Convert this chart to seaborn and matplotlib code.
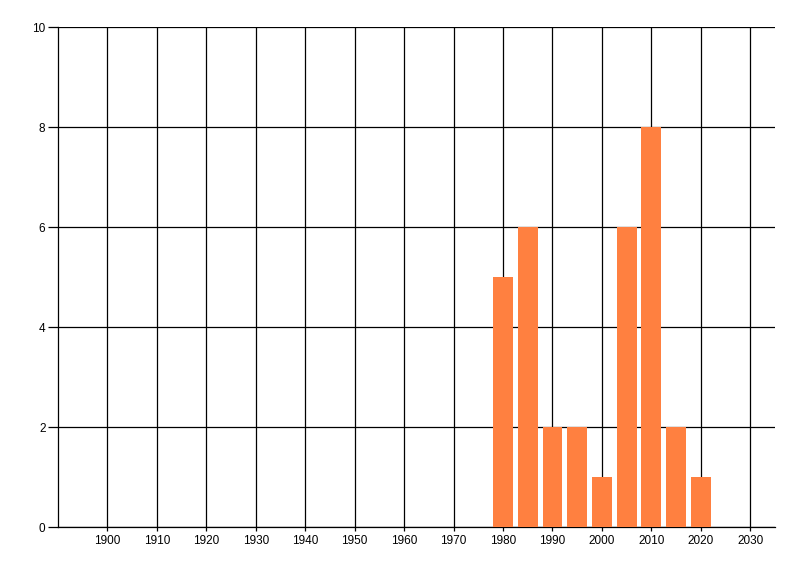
import matplotlib
matplotlib.use("Agg")
import matplotlib.pyplot as plt
import numpy as np
import pandas as pd
import seaborn as sns

# data
years = [1980, 1985, 1990, 1995, 2000, 2005, 2010, 2015, 2020]
counts = [5, 6, 2, 2, 1, 6, 8, 2, 1]
x_ticks = list(range(1900, 2031, 10))
y_ticks = [0, 2, 4, 6, 8, 10]

sns.set_style("white", {"xtick.bottom": True, "ytick.left": True})
plt.rcParams["font.family"] = ["Liberation Sans", "DejaVu Sans"]

df = pd.DataFrame({"year": years, "count": counts})

fig = plt.figure(figsize=(8, 5.76), dpi=100)
ax = fig.add_axes([58 / 800, 1 - 527 / 576, (775 - 58) / 800, 500 / 576])

sns.barplot(data=df, x="year", y="count", native_scale=True, width=0.8,
            color="#ff8040", saturation=1, linewidth=0, ax=ax, zorder=3)

ax.set_xlim(1890, 2035)
ax.set_ylim(0, 10)
ax.set_xticks(x_ticks)
ax.set_yticks(y_ticks)
ax.set_xticklabels([str(t) for t in x_ticks])
ax.grid(True, color="black", linewidth=0.9)
ax.set_axisbelow(True)

for side in ["top", "right"]:
    ax.spines[side].set_visible(False)
for side in ["left", "bottom"]:
    ax.spines[side].set_color("black")
    ax.spines[side].set_linewidth(0.9)

ax.tick_params(axis="y", length=7, width=0.9, color="black", labelcolor="black",
               labelsize=8.5, pad=2)
ax.tick_params(axis="x", length=3, width=0.9, color="black", labelcolor="black",
               labelsize=8.5, pad=3)
ax.set_xlabel("")
ax.set_ylabel("")

fig.savefig("out.png", dpi=100)
